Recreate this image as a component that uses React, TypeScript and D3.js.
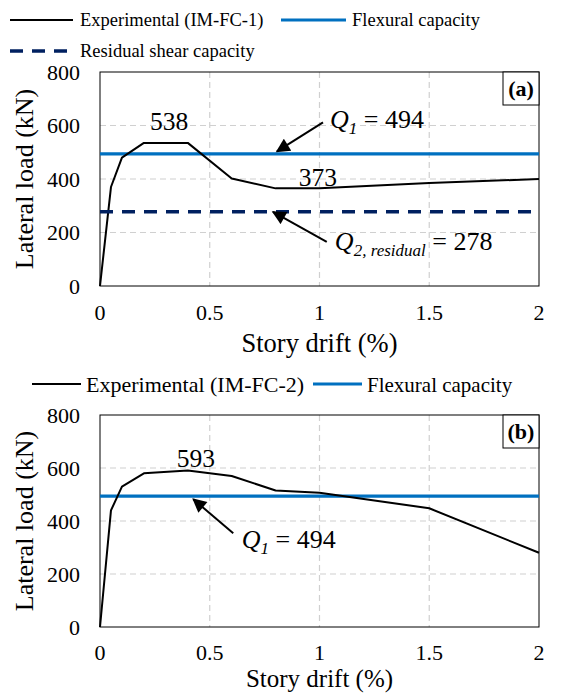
import React from 'react';
import * as d3 from 'd3';

// drift (%) and lateral load (kN)
const driftA = [0, 0.05, 0.1, 0.2, 0.4, 0.6, 0.8, 1.0, 1.5, 2.0];
const loadA = [0, 370, 480, 535, 535, 402, 365, 365, 385, 400];
const driftB = [0, 0.05, 0.1, 0.2, 0.4, 0.6, 0.8, 1.0, 1.5, 2.0];
const loadB = [0, 440, 530, 580, 591, 570, 515, 507, 448, 280];

const flexural = 494;
const residual = 278;

const xTicks = [0, 0.5, 1, 1.5, 2];
const xTickLabels = ['0', '0.5', '1', '1.5', '2'];
const yTicks = [0, 200, 400, 600, 800];

const FONT = 'Liberation Serif';
const BLUE = '#0070C0';
const NAVY = '#002060';
const GRID = '#D0D0D0';

const T = (props: React.SVGProps<SVGTextElement>) => (
  <text {...props} style={{ fontFamily: FONT }} />
);

type PanelProps = {
  top: number;
  bottom: number;
  drift: number[];
  load: number[];
  tag: string;
  tickOffset: number;
  titleOffset: number;
  titleSize: number;
  children: (x: d3.ScaleLinear<number, number>, y: d3.ScaleLinear<number, number>) => React.ReactNode;
};

const left = 100;
const right = 539;

const Panel = ({ top, bottom, drift, load, tag, tickOffset, titleOffset, titleSize, children }: PanelProps) => {
  const x = d3.scaleLinear().domain([0, 2]).range([left, right]);
  const y = d3.scaleLinear().domain([0, 800]).range([bottom, top]);
  const line = d3.line<number>()
    .x((_, i) => x(drift[i]))
    .y(d => y(d));

  return (
    <g>
      {/* grid */}
      {yTicks.slice(1, -1).map(t => (
        <line key={'gy' + t} x1={left} x2={right} y1={y(t)} y2={y(t)}
          stroke={GRID} strokeWidth={1.2} strokeDasharray="6,4" />
      ))}
      {xTicks.slice(1, -1).map(t => (
        <line key={'gx' + t} x1={x(t)} x2={x(t)} y1={top} y2={bottom}
          stroke={GRID} strokeWidth={1.2} strokeDasharray="6,4" />
      ))}
      {/* frame */}
      <rect x={left} y={top} width={right - left} height={bottom - top}
        fill="none" stroke="#000" strokeWidth={1} />
      {/* flexural capacity */}
      <line x1={left} x2={right} y1={y(flexural)} y2={y(flexural)} stroke={BLUE} strokeWidth={3.2} />
      {/* experimental curve */}
      <path d={line(load) || ''} fill="none" stroke="#000" strokeWidth={2} strokeLinejoin="round" />
      {children(x, y)}
      {/* tag box */}
      <rect x={right - 36} y={top} width={36} height={33} fill="#fff" stroke="#000" strokeWidth={1} />
      <T x={right - 18} y={top + 24} textAnchor="middle" fontWeight="bold" fontSize={22}>{tag}</T>
      {/* ticks */}
      {yTicks.map(t => (
        <T key={'ty' + t} x={left - 20} y={y(t) + 7.5} textAnchor="end" fontSize={22}>{t}</T>
      ))}
      {xTicks.map((t, i) => (
        <T key={'tx' + t} x={x(t)} y={bottom + tickOffset} textAnchor="middle" fontSize={22}>{xTickLabels[i]}</T>
      ))}
      <T x={(left + right) / 2} y={bottom + titleOffset} textAnchor="middle" fontSize={titleSize}>Story drift (%)</T>
      <T transform={`translate(33,${(top + bottom) / 2}) rotate(-90)`} textAnchor="middle" fontSize={26}>Lateral load (kN)</T>
    </g>
  );
};

const Arrow = ({ x1, y1, x2, y2 }: { x1: number; y1: number; x2: number; y2: number }) => (
  <line x1={x1} y1={y1} x2={x2} y2={y2} stroke="#000" strokeWidth={2} markerEnd="url(#arrowhead)" />
);

const Q = ({ x, y, sub, value }: { x: number; y: number; sub: string; value: number }) => (
  <T x={x} y={y} fontSize={26}>
    <tspan fontStyle="italic">Q</tspan>
    <tspan fontStyle="italic" fontSize={17} dy={6}>{sub}</tspan>
    <tspan dy={-6}> = {value}</tspan>
  </T>
);

const App = () => {
  return (
    <div style={{ position: 'absolute', left: 0, top: 0 }}>
      <svg width={563} height={693} style={{ display: 'block', background: '#fff' }}>
        <defs>
          <marker id="arrowhead" viewBox="0 0 10 10" refX="9" refY="5" markerWidth="8" markerHeight="7"
            markerUnits="strokeWidth" orient="auto">
            <path d="M0,0 L10,5 L0,10 z" fill="#000" />
          </marker>
        </defs>

        {/* legend (a) */}
        <line x1={10} x2={73} y1={20} y2={20} stroke="#000" strokeWidth={2} />
        <T x={80} y={26} fontSize={18.5}>Experimental (IM-FC-1)</T>
        <line x1={281} x2={346} y1={20} y2={20} stroke={BLUE} strokeWidth={3.2} />
        <T x={352} y={26} fontSize={18.5}>Flexural capacity</T>
        <line x1={10} x2={73} y1={51} y2={51} stroke={NAVY} strokeWidth={3.5} strokeDasharray="13,9" />
        <T x={80} y={57} fontSize={18.5}>Residual shear capacity</T>

        <Panel top={72} bottom={286} drift={driftA} load={loadA} tag="(a)" tickOffset={34} titleOffset={66} titleSize={26.5}>
          {(x, y) => (
            <g>
              <line x1={left} x2={right} y1={y(residual)} y2={y(residual)} stroke={NAVY}
                strokeWidth={3.5} strokeDasharray="13,9" />
              <T x={x(0.315)} y={y(582)} textAnchor="middle" fontSize={25.5}>538</T>
              <T x={x(0.993)} y={y(375)} textAnchor="middle" fontSize={25.5}>373</T>
              <Arrow x1={x(1.016)} y1={y(612)} x2={x(0.806)} y2={y(503)} />
              <Q x={x(1.048)} y={y(589)} sub="1" value={flexural} />
              <Arrow x1={x(1.033)} y1={y(165)} x2={x(0.788)} y2={y(277)} />
              <Q x={x(1.07)} y={y(134)} sub="2, residual" value={residual} />
            </g>
          )}
        </Panel>

        {/* legend (b) */}
        <line x1={32} x2={81} y1={384} y2={384} stroke="#000" strokeWidth={2} />
        <T x={86} y={391.5} fontSize={22}>Experimental (IM-FC-2)</T>
        <line x1={313} x2={362} y1={384} y2={384} stroke={BLUE} strokeWidth={3.2} />
        <T x={367} y={391.5} fontSize={21}>Flexural capacity</T>

        <Panel top={415} bottom={627} drift={driftB} load={loadB} tag="(b)" tickOffset={32.5} titleOffset={60} titleSize={25}>
          {(x, y) => (
            <g>
              <T x={x(0.437)} y={y(604)} textAnchor="middle" fontSize={25.5}>593</T>
              <Arrow x1={x(0.607)} y1={y(354)} x2={x(0.425)} y2={y(482)} />
              <Q x={x(0.646)} y={y(298)} sub="1" value={flexural} />
            </g>
          )}
        </Panel>
      </svg>
    </div>
  );
};

export default App;
